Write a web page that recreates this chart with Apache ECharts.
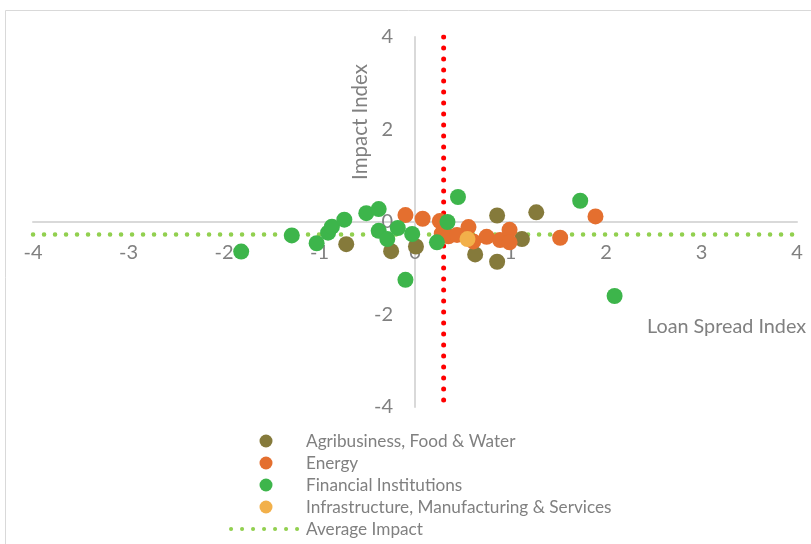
<!DOCTYPE html>
<html>
<head>
<meta charset="utf-8">
<script src="https://cdn.jsdelivr.net/npm/echarts@6/dist/echarts.min.js"></script>
<style>
html,body{margin:0;padding:0;background:#fff;}
#chart{width:811px;height:544px;}
</style>
</head>
<body>
<div id="chart"></div>
<script>
// ---- data ----
const seriesNames = ['Agribusiness, Food & Water', 'Energy', 'Financial Institutions', 'Infrastructure, Manufacturing & Services', 'Average Impact'];
const agribusiness = [[-0.72,-0.48],[-0.25,-0.63],[0.01,-0.53],[0.63,-0.70],[0.86,0.14],[0.86,-0.86],[1.12,-0.37],[1.27,0.21]];
const energy = [[-0.10,0.15],[0.08,0.07],[0.26,0.02],[0.28,-0.25],[0.35,-0.31],[0.44,-0.28],[0.56,-0.11],[0.61,-0.42],[0.75,-0.32],[0.89,-0.39],[0.99,-0.17],[0.99,-0.44],[1.52,-0.34],[1.89,0.12]];
const financial = [[-1.82,-0.64],[-1.29,-0.29],[-1.03,-0.46],[-0.91,-0.23],[-0.87,-0.10],[-0.74,0.05],[-0.51,0.19],[-0.38,0.28],[-0.38,-0.19],[-0.29,-0.37],[-0.18,-0.13],[-0.03,-0.26],[-0.10,-1.25],[0.23,-0.44],[0.34,0.0],[0.45,0.54],[1.73,0.46],[2.09,-1.60]];
const infrastructure = [[0.55,-0.37]];
const averageImpact = -0.27;
const averageLine = [[-4, averageImpact],[4, averageImpact]];
const spreadThreshold = 0.3;
const thresholdLine = [[spreadThreshold, 4],[spreadThreshold, -4]];
const axisRange = [-4, 4];
const xAxisTitle = 'Loan Spread Index';
const yAxisTitle = 'Impact Index';

// ---- styles ----
const colors = ['#857a3b', '#e46f2f', '#3db54b', '#f2b04a'];
const avgColor = '#92d050';
const font = 'Lato, "Open Sans", sans-serif';
const textColor = '#808080';

const W = 811, H = 544;
const grid = {left: 33, right: 14, top: 37, bottom: 137};
const plotW = W - grid.left - grid.right;
const plotH = H - grid.top - grid.bottom;
// move the axes to cross at zero (through the axis offset)
const xOffset = -plotH * (0 - axisRange[0]) / (axisRange[1] - axisRange[0]);
const yOffset = -plotW * (0 - axisRange[0]) / (axisRange[1] - axisRange[0]);

const chart = echarts.init(document.getElementById('chart'), null, {renderer: 'canvas'});

function scatter(name, data, color, z) {
  return {
    name: name, type: 'scatter', data: data, symbol: 'circle', symbolSize: 16,
    itemStyle: {color: color, opacity: 1}, z: z
  };
}

const dotted = {width: 4.5, type: [0.1, 10.9], cap: 'round'};

const option = {
  animation: false,
  backgroundColor: '#ffffff',
  grid: Object.assign({containLabel: false, outerBoundsMode: 'none'}, grid),
  xAxis: {
    type: 'value', min: axisRange[0], max: axisRange[1], interval: 1,
    position: 'bottom', offset: xOffset,
    axisLine: {onZero: false, lineStyle: {color: '#d9d9d9', width: 2}},
    axisTick: {show: false}, splitLine: {show: false},
    axisLabel: {color: textColor, fontSize: 20, fontFamily: font, margin: 21}
  },
  yAxis: {
    type: 'value', min: axisRange[0], max: axisRange[1], interval: 2,
    position: 'left', offset: yOffset,
    axisLine: {onZero: false, lineStyle: {color: '#d9d9d9', width: 2}},
    axisTick: {show: false}, splitLine: {show: false},
    axisLabel: {color: textColor, fontSize: 20, fontFamily: font, margin: 22}
  },
  legend: {
    orient: 'vertical', left: 224, top: 427, height: 120,
    itemWidth: 70, itemHeight: 13, itemGap: 4,
    textStyle: {color: textColor, fontSize: 17.2, fontFamily: font, lineHeight: 18},
    data: [
      {name: seriesNames[0], icon: 'circle'},
      {name: seriesNames[1], icon: 'circle'},
      {name: seriesNames[2], icon: 'circle'},
      {name: seriesNames[3], icon: 'circle'},
      {name: seriesNames[4], itemStyle: {color: 'rgba(0,0,0,0)', borderWidth: 0, opacity: 0},
       lineStyle: Object.assign({color: avgColor}, dotted, {width: 4})}
    ]
  },
  graphic: [
    {type: 'rect', shape: {x: 5.5, y: 10.5, width: 900, height: 700}, style: {fill: 'none', stroke: '#d9d9d9', lineWidth: 1}, silent: true, z: -10},
    {type: 'text', x: 360, y: 122, rotation: Math.PI/2, style: {text: yAxisTitle, fill: textColor, font: '20.5px ' + font, textAlign: 'center', textVerticalAlign: 'middle'}},
    {type: 'text', x: 647, y: 327, style: {text: xAxisTitle, fill: textColor, font: '19.8px ' + font, textAlign: 'left', textVerticalAlign: 'middle'}}
  ],
  series: [
    {
      name: 'threshold', type: 'line', data: thresholdLine, symbol: 'none', z: 1,
      lineStyle: {color: '#ff0000', width: 5, type: [0.1, 10.9], cap: 'round'}
    },
    {
      name: seriesNames[4], type: 'line', data: averageLine, symbol: 'none', z: 1,
      itemStyle: {color: avgColor},
      lineStyle: Object.assign({color: avgColor}, dotted)
    },
    scatter(seriesNames[0], agribusiness, colors[0], 2),
    scatter(seriesNames[1], energy, colors[1], 3),
    scatter(seriesNames[2], financial, colors[2], 4),
    scatter(seriesNames[3], infrastructure, colors[3], 5)
  ]
};
chart.setOption(option);
</script>
</body>
</html>
